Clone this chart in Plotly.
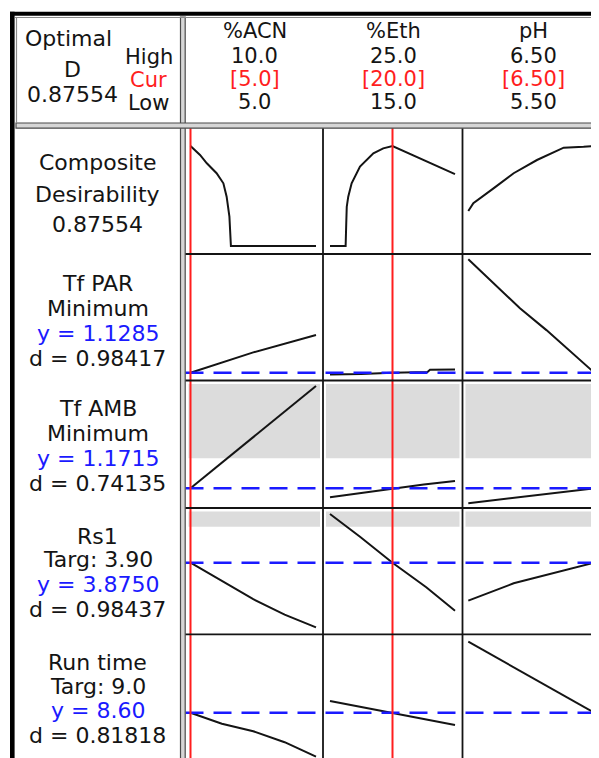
import plotly.graph_objects as go

# ---------------- data ----------------
factor_names = ["%ACN", "%Eth", "pH"]
factor_high_txt = ["10.0", "25.0", "6.50"]
factor_cur_txt = ["[5.0]", "[20.0]", "[6.50]"]
factor_low_txt = ["5.0", "15.0", "5.50"]
factor_low = [5.0, 15.0, 5.5]
factor_high = [10.0, 25.0, 6.5]
factor_cur = [5.0, 20.0, 6.5]

optimal_text = ["Optimal", "D", "0.87554"]
level_text = ["High", "Cur", "Low"]

label_composite = ["Composite", "Desirability", "0.87554"]
label_tfpar = ["Tf PAR", "Minimum", "y = 1.1285", "d = 0.98417"]
label_tfamb = ["Tf AMB", "Minimum", "y = 1.1715", "d = 0.74135"]
label_rs1 = ["Rs1", "Targ: 3.90", "y = 3.8750", "d = 0.98437"]
label_runtime = ["Run time", "Targ: 9.0", "y = 8.60", "d = 0.81818"]

# optimal predicted responses (blue dashed lines)
y_opt = [1.1285, 1.1715, 3.8750, 8.60]
# upper bounds (grey shaded: desirability zero)
tfamb_upper = 1.265
rs1_upper = 4.60

# Composite desirability traces
comp_acn_x = [5.0, 5.38, 5.65, 6.04, 6.31, 6.44, 6.55, 6.57, 6.61, 10.0]
comp_acn_y = [0.8755, 0.797, 0.724, 0.637, 0.549, 0.432, 0.257, 0.111, 0.0, 0.0]
comp_eth_x = [15.0, 16.25, 16.3, 16.34, 16.46, 16.73, 17.4, 18.47, 19.26, 20.0, 25.0]
comp_eth_y = [0.0, 0.0, 0.2, 0.344, 0.432, 0.549, 0.695, 0.812, 0.855, 0.8755, 0.63]
comp_ph_x = [5.5, 5.54, 5.70, 5.86, 6.045, 6.257, 6.415, 6.5]
comp_ph_y = [0.306, 0.374, 0.505, 0.637, 0.753, 0.861, 0.869, 0.8755]

# Tf PAR
tfpar_acn_x = [5.0, 7.5, 10.0]
tfpar_acn_y = [1.1285, 1.195, 1.252]
tfpar_eth_x = [15.0, 17.5, 20.0, 22.8, 23.0, 25.0]
tfpar_eth_y = [1.123, 1.124, 1.1285, 1.131, 1.138, 1.139]
tfpar_ph_x = [5.5, 5.91, 6.12, 6.5]
tfpar_ph_y = [1.50, 1.3395, 1.268, 1.1285]

# Tf AMB
tfamb_acn_x = [5.0, 7.5, 10.0]
tfamb_acn_y = [1.1715, 1.331, 1.490]
tfamb_eth_x = [15.0, 17.5, 20.0, 22.5, 25.0]
tfamb_eth_y = [1.1435, 1.157, 1.1715, 1.183, 1.1942]
tfamb_ph_x = [5.5, 6.0, 6.5]
tfamb_ph_y = [1.1248, 1.148, 1.1715]

# Rs1
rs1_acn_x = [5.0, 6.25, 7.5, 8.75, 10.0]
rs1_acn_y = [3.875, 3.50, 3.14, 2.83, 2.572]
rs1_eth_x = [15.0, 17.4, 20.0, 22.7, 25.0]
rs1_eth_y = [4.856, 4.399, 3.875, 3.380, 2.908]
rs1_ph_x = [5.5, 5.86, 6.5]
rs1_ph_y = [3.110, 3.460, 3.875]

# Run time
rt_acn_x = [5.0, 6.25, 7.5, 8.75, 10.0]
rt_acn_y = [8.60, 8.38, 8.23, 8.01, 7.72]
rt_eth_x = [15.0, 20.0, 25.0]
rt_eth_y = [8.834, 8.60, 8.354]
rt_ph_x = [5.5, 6.0, 6.5]
rt_ph_y = [10.02, 9.31, 8.60]

# ---------------- layout geometry (page pixels) ----------------
OFF = 8                      # default page body margin
W, H = 599 - OFF, 758 - OFF  # figure size so it fits the window
FONT = "DejaVu Sans"
FS = 22
HFS = 21
BLACK = "#141414"
RED = "#ff1e1e"
BLUE = "#1a1aff"


def px(x):
    return (x - OFF) / W


def py(y):
    return 1 - (y - OFF) / H


col_L = [185.5, 323.0, 462.5]
col_R = [323.0, 462.5, 599.0]
col_a = [190.5, 330.0, 468.3]   # pixel of low setting
col_b = [316.0, 455.0, 594.3]   # pixel of high setting

row_T = [128.0, 254.0, 380.5, 508.0, 634.3]
row_B = [254.0, 380.5, 508.0, 634.3, 758.0]
# vertical scale per row: anchor value, anchor pixel, value per pixel
row_v0 = [0.0, 1.1285, 1.1715, 3.875, 8.60]
row_p0 = [246.0, 372.7, 488.3, 562.7, 712.7]
row_s = [1 / 114.2, 0.003276, 0.003113, 0.02014, 0.02]


def yval(r, pix):
    return row_v0[r] + (row_p0[r] - pix) * row_s[r]


curves = [
    [(comp_acn_x, comp_acn_y), (comp_eth_x, comp_eth_y), (comp_ph_x, comp_ph_y)],
    [(tfpar_acn_x, tfpar_acn_y), (tfpar_eth_x, tfpar_eth_y), (tfpar_ph_x, tfpar_ph_y)],
    [(tfamb_acn_x, tfamb_acn_y), (tfamb_eth_x, tfamb_eth_y), (tfamb_ph_x, tfamb_ph_y)],
    [(rs1_acn_x, rs1_acn_y), (rs1_eth_x, rs1_eth_y), (rs1_ph_x, rs1_ph_y)],
    [(rt_acn_x, rt_acn_y), (rt_eth_x, rt_eth_y), (rt_ph_x, rt_ph_y)],
]

fig = go.Figure()
layout = dict(
    width=W, height=H, margin=dict(l=0, r=0, t=0, b=0),
    paper_bgcolor="white", plot_bgcolor="rgba(0,0,0,0)",
    showlegend=False,
)

for r in range(5):
    for c in range(3):
        idx = r * 3 + c + 1
        sfx = "" if idx == 1 else str(idx)
        lo, hi = factor_low[c], factor_high[c]
        k = (hi - lo) / (col_b[c] - col_a[c])
        xr = [lo - (col_a[c] - col_L[c]) * k, hi + (col_R[c] - col_b[c]) * k]
        yr = [yval(r, row_B[r]), yval(r, row_T[r])]
        layout["xaxis" + sfx] = dict(domain=[px(col_L[c]), px(col_R[c])], range=xr,
                                     visible=False, anchor="y" + sfx, fixedrange=True)
        layout["yaxis" + sfx] = dict(domain=[py(row_B[r]), py(row_T[r])], range=yr,
                                     visible=False, anchor="x" + sfx, fixedrange=True)
        xs, ys = curves[r][c]
        fig.add_trace(go.Scatter(x=xs, y=ys, mode="lines",
                                 line=dict(color=BLACK, width=2),
                                 xaxis="x" + sfx, yaxis="y" + sfx,
                                 hoverinfo="skip"))

fig.update_layout(**layout)

shapes = []
# grey shaded regions (desirability = 0)
for r, ub in [(2, tfamb_upper), (3, rs1_upper)]:
    yref = "y" + str(r * 3 + 1)
    for c in range(3):
        shapes.append(dict(type="rect", xref="paper", yref=yref,
                           x0=px(col_L[c] + 3), x1=px(col_R[c] - 3),
                           y0=ub, y1=yval(r, row_T[r] + 3.5),
                           fillcolor="#dcdcdc", line=dict(width=0), layer="below"))

# blue dashed optimal response lines
for i, yo in enumerate(y_opt):
    r = i + 1
    shapes.append(dict(type="line", xref="paper", yref="y" + str(r * 3 + 1),
                       x0=px(185.5), x1=1, y0=yo, y1=yo,
                       line=dict(color=BLUE, width=2.5, dash="18px,10px")))

# red current-setting lines
for c in range(3):
    shapes.append(dict(type="line", xref="x" + ("" if c == 0 else str(c + 1)), yref="paper",
                       x0=factor_cur[c], x1=factor_cur[c], y0=0, y1=py(128),
                       line=dict(color=RED, width=2)))

# cell separators
for xs_ in [323.0, 462.5]:
    shapes.append(dict(type="line", xref="paper", yref="paper",
                       x0=px(xs_), x1=px(xs_), y0=0, y1=py(128),
                       line=dict(color=BLACK, width=1.8)))
for ys_ in [254.0, 380.5, 508.0, 634.3]:
    shapes.append(dict(type="line", xref="paper", yref="paper",
                       x0=px(185), x1=1, y0=py(ys_), y1=py(ys_),
                       line=dict(color=BLACK, width=1.8)))

# double frame lines
shapes.append(dict(type="rect", xref="paper", yref="paper",
                   x0=px(180.5), x1=px(185.2), y0=-0.01, y1=py(17),
                   fillcolor="#d6d6d6", line=dict(color="#4a4a4a", width=1.2)))
shapes.append(dict(type="rect", xref="paper", yref="paper",
                   x0=px(16), x1=1.01, y0=py(128.2), y1=py(123),
                   fillcolor="#d6d6d6", line=dict(color="#4a4a4a", width=1.2)))
# thin grey inner border of header
shapes.append(dict(type="line", xref="paper", yref="paper",
                   x0=px(15), x1=1, y0=py(17.5), y1=py(17.5),
                   line=dict(color="#8a8a8a", width=1.2)))
shapes.append(dict(type="line", xref="paper", yref="paper",
                   x0=px(16.5), x1=px(16.5), y0=py(123), y1=py(17),
                   line=dict(color="#8a8a8a", width=1.2)))
# outer thick black frame
shapes.append(dict(type="line", xref="paper", yref="paper",
                   x0=px(10), x1=1, y0=py(13.8), y1=py(13.8),
                   line=dict(color="black", width=4)))
shapes.append(dict(type="line", xref="paper", yref="paper",
                   x0=px(12.3), x1=px(12.3), y0=-0.01, y1=py(11.8),
                   line=dict(color="black", width=4.6)))

fig.update_layout(shapes=shapes)

ann = []


def txt(x, y, s, color=BLACK, size=FS):
    ann.append(dict(x=px(x), y=py(y), xref="paper", yref="paper", text=s,
                    showarrow=False, xanchor="center", yanchor="middle",
                    borderpad=0,
                    font=dict(family=FONT, size=size, color=color)))


# header: optimal D block
txt(68, 38, optimal_text[0])
txt(72, 69, optimal_text[1])
txt(72.5, 94, optimal_text[2])
txt(148.5, 57, level_text[0], size=HFS)
txt(148.5, 79.5, level_text[1], RED, size=HFS)
txt(148.5, 102.5, level_text[2], size=HFS)

# header: factor columns
col_centers = [254.5, 393.5, 533]
for c in range(3):
    txt(col_centers[c], 31, factor_names[c], size=HFS)
    txt(col_centers[c], 56.5, factor_high_txt[c], size=HFS)
    txt(col_centers[c], 79, factor_cur_txt[c], RED, size=HFS)
    txt(col_centers[c], 102, factor_low_txt[c], size=HFS)

# row labels
label_rows = [label_composite, label_tfpar, label_tfamb, label_rs1, label_runtime]
label_ys = [
    [162, 194, 224],
    [283.3, 308, 333, 358],
    [408, 433, 458, 483],
    [536.7, 559.5, 584, 609],
    [662.5, 686, 710, 735],
]
for r, lines in enumerate(label_rows):
    for j, s in enumerate(lines):
        color = BLUE if (r > 0 and j == 2) else BLACK
        txt(97.5, label_ys[r][j], s, color)

fig.update_layout(annotations=ann)

fig.write_html("out.html")
